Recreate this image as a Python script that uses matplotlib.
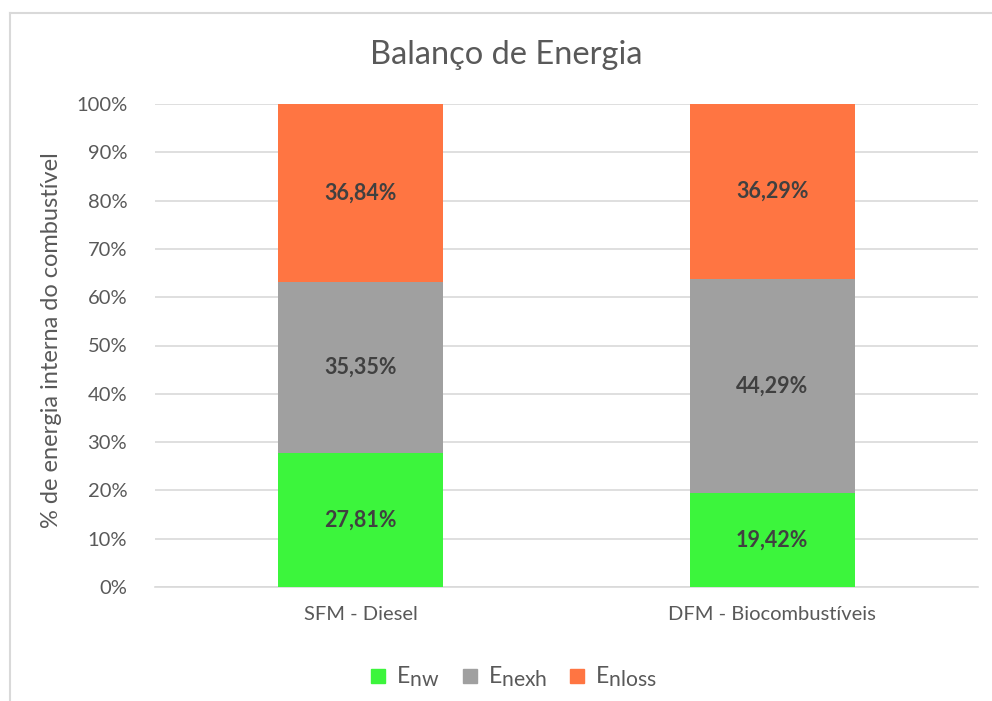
import matplotlib
matplotlib.use("Agg")
import matplotlib.pyplot as plt
import matplotlib._mathtext as _mt
from matplotlib.ticker import FuncFormatter, MultipleLocator
from matplotlib.lines import Line2D
import numpy as np

_mt.SHRINK_FACTOR = 0.92

plt.rcParams['font.family'] = ['Lato', 'DejaVu Sans']
plt.rcParams['mathtext.fontset'] = 'custom'
plt.rcParams['mathtext.rm'] = 'Lato'
plt.rcParams['mathtext.it'] = 'Lato'

categories = ["SFM - Diesel", "DFM - Biocombustíveis"]
enw = [27.81, 19.42]
enexh = [35.35, 44.29]
enloss = [36.84, 36.29]
series_names = [r"E$_{\mathrm{nw}}$", r"E$_{\mathrm{nexh}}$", r"E$_{\mathrm{nloss}}$"]
colors = ["#3CF53C", "#A0A0A0", "#FF7542"]

fig = plt.figure(figsize=(9.92, 7.01), dpi=100)
ax = fig.add_axes([155/992, 1 - 587/701, (978-155)/992, (587-104)/701])

x = np.arange(len(categories))
bottom = np.zeros(len(categories))
for vals, c, name in zip([enw, enexh, enloss], colors, series_names):
    bars = ax.bar(x, vals, width=0.4, bottom=bottom, color=c, label=name, zorder=3)
    for xi, v, b in zip(x, vals, bottom):
        ax.text(xi, b + v / 2, f"{v:.2f}".replace(".", ",") + "%", ha="center", va="center",
                fontsize=15.5, fontweight="bold", color="#404040", zorder=4)
    bottom = bottom + np.array(vals)

ax.set_xlim(-0.5, 1.5)
ax.set_ylim(0, 100)
ax.yaxis.set_major_locator(MultipleLocator(10))
ax.yaxis.set_major_formatter(FuncFormatter(lambda v, p: f"{int(round(v))}%"))
ax.set_xticks(x)
ax.set_xticklabels(categories)
ax.tick_params(axis="both", length=0, labelsize=14.5, colors="#595959", pad=20)
ax.tick_params(axis="x", pad=14)
ax.grid(axis="y", color="#D9D9D9", linewidth=1.2, zorder=0)
for s in ["top", "right", "left"]:
    ax.spines[s].set_visible(False)
ax.spines["bottom"].set_color("#D9D9D9")
ax.spines["bottom"].set_linewidth(1.2)

fig.text(52/992, 1 - 340/701, "% de energia interna do combustível", rotation=90, ha="center", va="center",
         fontsize=17, color="#595959")
fig.text(0.51, 1 - 55/701, "Balanço de Energia", ha="center", va="center", fontsize=23.5, color="#595959")

handles = [Line2D([0], [0], marker="s", linestyle="", markersize=10, markerfacecolor=c, markeredgecolor=c)
           for c in colors]
fig.legend(handles, series_names, loc="center", bbox_to_anchor=(0.517, 1 - 677/701), ncol=3, frameon=False,
           fontsize=16.5, handlelength=0.8, handletextpad=0.4, columnspacing=0.9, labelcolor="#595959")

# outer border (left and top only visible)
fig.add_artist(Line2D([10/992, 10/992], [0, 1 - 13/701], transform=fig.transFigure, color="#D9D9D9", linewidth=1.5))
fig.add_artist(Line2D([10/992, 1], [1 - 13/701, 1 - 13/701], transform=fig.transFigure, color="#D9D9D9", linewidth=1.5))

fig.savefig("out.png", dpi=100, facecolor="white")
